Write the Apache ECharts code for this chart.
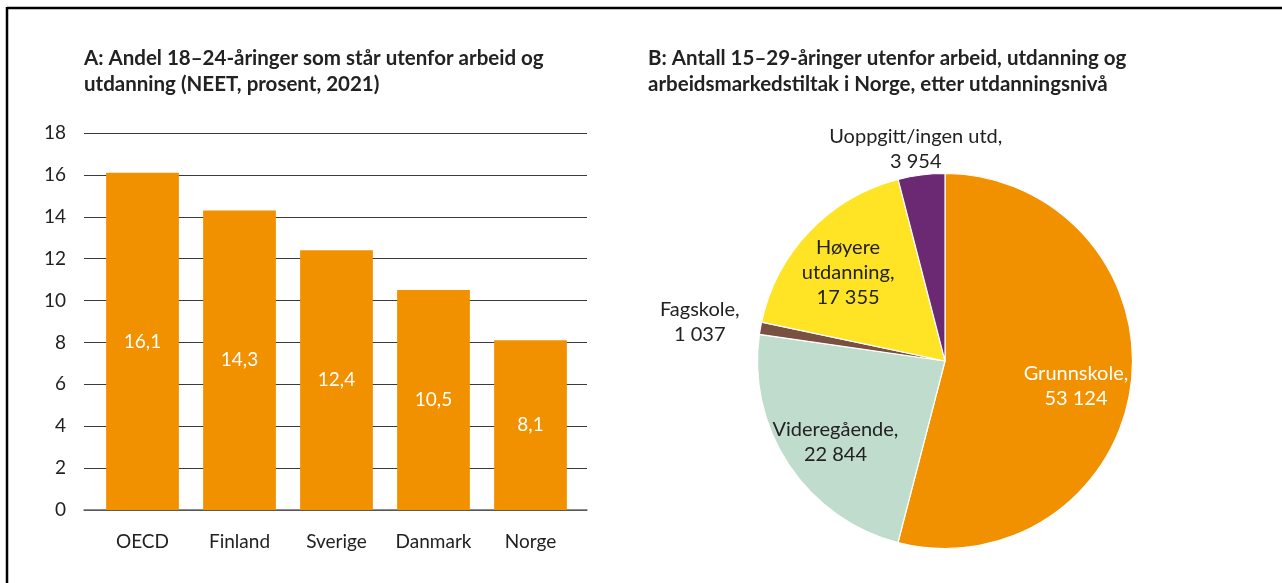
<!DOCTYPE html>
<html>
<head>
<meta charset="utf-8">
<script src="https://cdn.jsdelivr.net/npm/echarts@6/dist/echarts.min.js"></script>
<style>
html,body{margin:0;padding:0;background:#fff;}
#c{width:1282px;height:583px;}
</style>
</head>
<body>
<div id="c"></div>
<script>
const barCategories = ['OECD', 'Finland', 'Sverige', 'Danmark', 'Norge'];
const barValues = [16.1, 14.3, 12.4, 10.5, 8.1];
const yTicks = [0, 2, 4, 6, 8, 10, 12, 14, 16, 18];

const pieNames = ['Grunnskole', 'Videregående', 'Fagskole', 'Høyere\nutdanning', 'Uoppgitt/ingen utd'];
const pieValues = [53124, 22844, 1037, 17355, 3954];
const pieColors = ['#F29100', '#C0DCCD', '#7A5040', '#FFE325', '#6B2873'];
const pieLabelColors = ['#ffffff', '#222222', '#222222', '#222222', '#222222'];
const pieLabelOffsets = [[35, 13], [-29, 27], [-150, -22], [-27, -22], [-17, -116]];

const titleA = 'A: Andel 18–24-åringer som står utenfor arbeid og\nutdanning (NEET, prosent, 2021)';
const titleB = 'B: Antall 15–29-åringer utenfor arbeid, utdanning og\narbeidsmarkedstiltak i Norge, etter utdanningsnivå';

const FONT = 'Lato, "Open Sans", sans-serif';

function fmt(v) {
  return String(v).replace(/\B(?=(\d{3})+(?!\d))/g, ' ');
}

const yMin = yTicks[0], yMax = yTicks[yTicks.length - 1];

const chart = echarts.init(document.getElementById('c'), null, {renderer: 'canvas'});
chart.setOption({
  animation: false,
  backgroundColor: '#ffffff',
  textStyle: {fontFamily: FONT},
  title: [
    {text: titleA, left: 84, top: 45, padding: 0, textStyle: {fontFamily: FONT, fontSize: 20.5, fontWeight: 'bold', color: '#222', lineHeight: 26}},
    {text: titleB, left: 648, top: 45, padding: 0, textStyle: {fontFamily: FONT, fontSize: 20.5, fontWeight: 'bold', color: '#222', lineHeight: 26}}
  ],
  graphic: [
    {type: 'line', shape: {x1: 7, y1: 8, x2: 1282, y2: 8}, style: {stroke: '#000', lineWidth: 2.5}},
    {type: 'line', shape: {x1: 7, y1: 7, x2: 7, y2: 583}, style: {stroke: '#000', lineWidth: 2.5}}
  ],
  grid: [
    {left: 84, right: 695, top: 133, bottom: 73},
    {left: 94, right: 703, top: 133, bottom: 73}
  ],
  xAxis: [
    {
      type: 'category', gridIndex: 0, data: barCategories,
      axisTick: {show: false}, axisLabel: {show: false},
      axisLine: {show: true, lineStyle: {color: '#666', width: 1.5}}
    },
    {
      type: 'category', gridIndex: 1, data: barCategories,
      axisTick: {show: false},
      axisLine: {show: false},
      axisLabel: {interval: 0, fontFamily: FONT, fontSize: 19, color: '#222', margin: 22}
    }
  ],
  yAxis: [
    {
      type: 'value', gridIndex: 0,
      min: yMin, max: yMax, interval: 2,
      axisLine: {show: false},
      axisTick: {show: false},
      splitLine: {lineStyle: {color: '#3a3a3a', width: 1}},
      axisLabel: {fontFamily: FONT, fontSize: 19, color: '#222', margin: 18}
    },
    {
      type: 'value', gridIndex: 1,
      min: yMin, max: yMax, interval: 2,
      show: false
    }
  ],
  series: [
    {
      type: 'bar',
      xAxisIndex: 1, yAxisIndex: 1,
      data: barValues,
      barCategoryGap: '25%',
      itemStyle: {color: '#F29100'},
      label: {
        show: true, position: 'inside', color: '#fff', fontFamily: FONT, fontSize: 19,
        formatter: p => String(p.value).replace('.', ',')
      }
    },
    {
      type: 'pie',
      center: [945, 361],
      radius: 187.5,
      startAngle: 90,
      clockwise: true,
      silent: true,
      itemStyle: {borderColor: '#fff', borderWidth: 1.2},
      labelLine: {show: false},
      data: pieNames.map((n, i) => ({
        name: n,
        value: pieValues[i],
        itemStyle: {color: pieColors[i]},
        label: {
          show: true, position: 'inside', color: pieLabelColors[i],
          offset: pieLabelOffsets[i],
          fontFamily: FONT, fontSize: 20, lineHeight: 25, align: 'center',
          formatter: p => p.name + ',\n' + fmt(p.value)
        }
      }))
    }
  ]
});
</script>
</body>
</html>
